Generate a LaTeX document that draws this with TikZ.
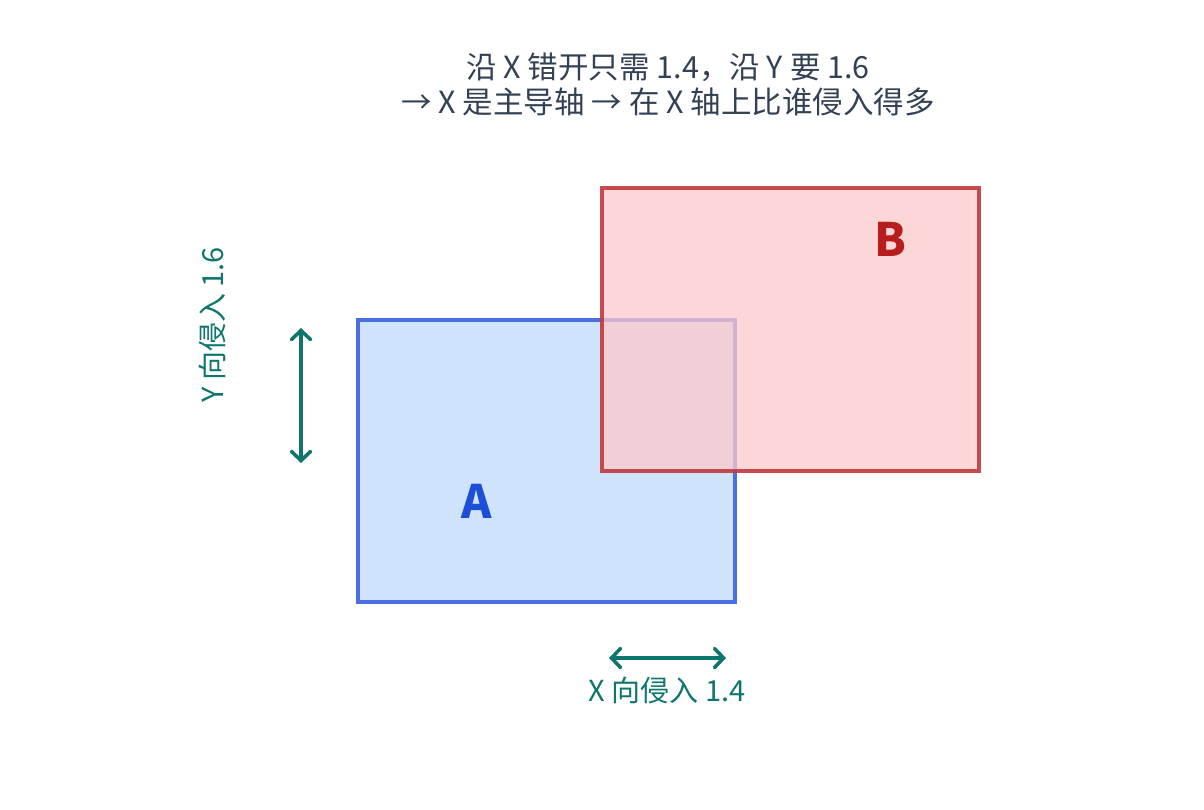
\documentclass[tikz,border=0pt]{standalone}
\usepackage{fontspec}
\setmainfont{Noto Sans CJK SC}
\usetikzlibrary{arrows.meta}
\definecolor{titlec}{HTML}{334155}
\definecolor{tealc}{HTML}{0F766E}
\definecolor{afill}{HTML}{CFE3FD}
\definecolor{aline}{HTML}{4A6FE3}
\definecolor{bfill}{HTML}{FCCACA}
\definecolor{bline}{HTML}{C0393E}
\definecolor{alab}{HTML}{1D4ED8}
\definecolor{blab}{HTML}{B91C1C}
\tikzset{
  boxA/.style={draw=aline, fill=afill, line width=4pt},
  boxB/.style={draw=bline, draw opacity=0.9, fill=bfill, fill opacity=0.75, line width=4pt},
  dimarrow/.style={draw=tealc, line width=3.6pt, {Straight Barb[length=9pt,width=19pt,line cap=round]}-{Straight Barb[length=9pt,width=19pt,line cap=round]}, line cap=round},
  dimlabel/.style={text=tealc, font=\fontsize{29}{33}\selectfont, inner sep=0pt},
  biglab/.style={font=\fontsize{46}{50}\selectfont\bfseries, inner sep=0pt}
}
\begin{document}
\begin{tikzpicture}[x=1pt,y=-1pt]
\useasboundingbox (0,0) rectangle (1204,810);
\node[text=titlec, align=center, font=\fontsize{30.5}{35}\selectfont, inner sep=0pt] (title) at (668,84)
  {沿 X 错开只需 1.4，沿 Y 要 1.6\\→ X 是主导轴 → 在 X 轴上比谁侵入得多};
\draw[boxA] (358,320) rectangle (735,602);
\node[biglab, text=alab] (la) at (477,501) {A};
\draw[boxB] (602,188) rectangle (979,471);
\node[biglab, text=blab] (lb) at (890,239) {B};
\coordinate (y1) at (301,328);
\coordinate (y2) at (301,463);
\draw[dimarrow] (y1) -- (y2);
\node[dimlabel, rotate=90] (ylab) at (212,325) {Y 向侵入 1.6};
\coordinate (x1) at (609,658);
\coordinate (x2) at (726,658);
\draw[dimarrow] (x1) -- (x2);
\node[dimlabel] (xlab) at (667,690) {X 向侵入 1.4};
\end{tikzpicture}
\end{document}
